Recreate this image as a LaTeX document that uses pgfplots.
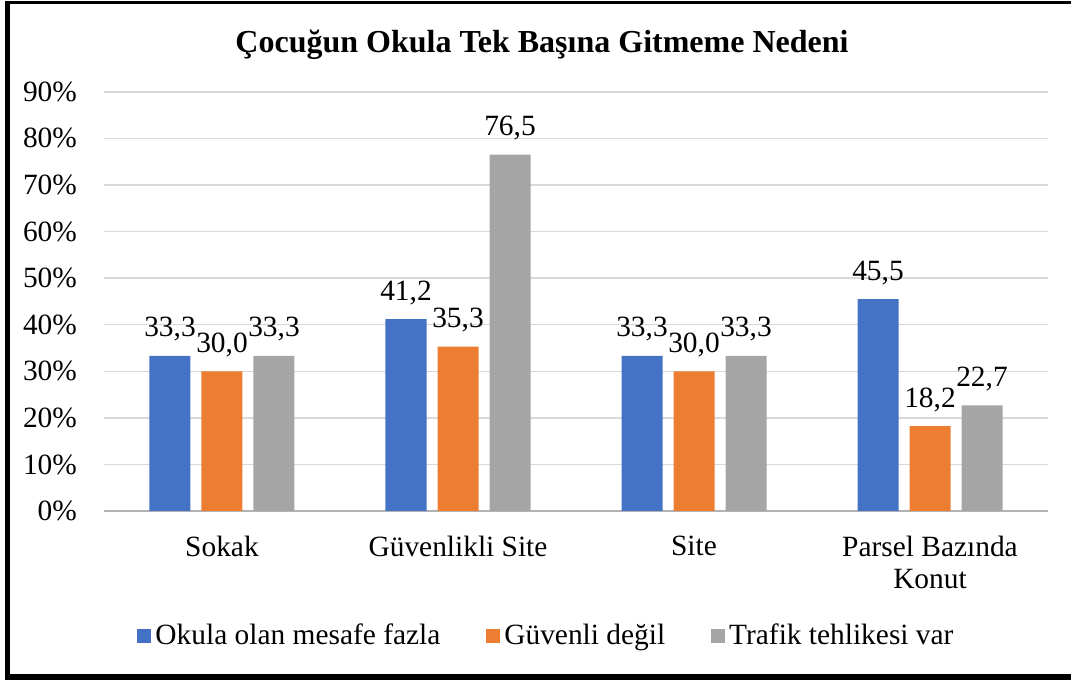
\documentclass[border=0pt]{standalone}
\usepackage{fontspec}
\setmainfont{Liberation Serif}
\usepackage{pgfplots}
\pgfplotsset{compat=1.18}
\definecolor{cblue}{HTML}{4472C4}
\definecolor{corange}{HTML}{ED7D31}
\definecolor{cgray}{HTML}{A5A5A5}
\newcommand{\lblfont}{\fontsize{14.7}{16}\selectfont}
\begin{document}
\begin{tikzpicture}[x=1pt,y=1pt]
\useasboundingbox (0,0) rectangle (535.5,340);
\draw[line width=1.5pt] (2.5,338.5) -- (535.5,338.5);
\draw[line width=2.5pt] (3.75,339.5) -- (3.75,0);
\draw[line width=3pt] (2.5,1.5) -- (535.5,1.5);
\node[font=\bfseries\fontsize{16}{19}\selectfont] at (271,317.5) {Çocuğun Okula Tek Başına Gitmeme Nedeni};
\begin{axis}[
  at={(52pt,84.5pt)}, anchor=south west, scale only axis,
  width=472pt, height=209.6pt,
  ybar=5.5pt, bar width=20.5pt,
  xmin=-0.5, xmax=3.5, ymin=0, ymax=90,
  ytick={0,10,...,90},
  yticklabel={\pgfmathprintnumber{\tick}\%},
  xtick={0,1,2,3},
  xticklabels={Sokak, Güvenlikli Site, Site, {Parsel Bazında\\Konut}},
  xticklabel style={align=center, yshift=-9pt},
  yticklabel style={xshift=-10pt},
  /pgf/number format/assume math mode=true,
  ymajorgrids, grid style={gray!30, line width=0.75pt},
  axis x line=bottom, axis y line=left,
  y axis line style={draw=none},
  x axis line style={-, draw=gray!60, line width=0.75pt},
  major tick length=0,
  tick label style={font=\lblfont},
  nodes near coords={\pgfmathprintnumber[fixed,fixed zerofill,precision=1,use comma,assume math mode=true]{\pgfplotspointmeta}},
  every node near coord/.append style={font=\lblfont, black, inner sep=2pt, yshift=5pt},
  legend columns=3,
  legend style={draw=none, at={(0.4698,-0.298)}, anchor=center,
    font=\lblfont,
    /tikz/every even column/.append style={column sep=21pt}},
  legend image code/.code={\fill[#1] (0pt,-3.5pt) rectangle (7pt,3.5pt);},
]
\addplot[fill=cblue, draw=none] coordinates {(0,33.3) (1,41.2) (2,33.3) (3,45.5)};
\addplot[fill=corange, draw=none] coordinates {(0,30.0) (1,35.3) (2,30.0) (3,18.2)};
\addplot[fill=cgray, draw=none] coordinates {(0,33.3) (1,76.5) (2,33.3) (3,22.7)};
\legend{Okula olan mesafe fazla, Güvenli değil, Trafik tehlikesi var}
\end{axis}
\end{tikzpicture}
\end{document}
